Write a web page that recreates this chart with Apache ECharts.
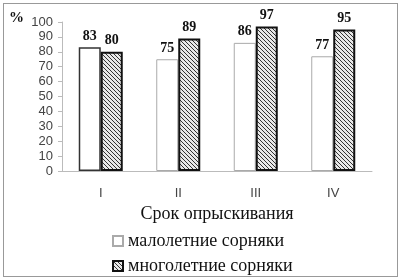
<!DOCTYPE html>
<html><head><meta charset="utf-8">
<script src="https://cdn.jsdelivr.net/npm/echarts@6/dist/echarts.min.js"></script>
<style>
html,body{margin:0;padding:0;background:#fff;}
#frame{position:absolute;left:3px;top:3px;width:393px;height:272px;border:1px solid #999;}
#c{position:absolute;left:0;top:0;width:401px;height:280px;}
</style></head>
<body><div id="frame"></div><div id="c"></div>
<script>
var categories = ['I', 'II', 'III', 'IV'];
var annualWeeds = [83, 75, 86, 77];
var perennialWeeds = [80, 89, 97, 95];
var yTicks = [0, 10, 20, 30, 40, 50, 60, 70, 80, 90, 100];
var seriesNames = ['малолетние сорняки', 'многолетние сорняки'];
var xName = 'Срок опрыскивания';

var cv = document.createElement('canvas');
cv.width = 4; cv.height = 4;
var g = cv.getContext('2d');
g.fillStyle = '#e8e8e8'; g.fillRect(0, 0, 4, 4);
g.strokeStyle = '#333'; g.lineWidth = 1;
g.beginPath();
g.moveTo(-1, -1); g.lineTo(5, 5);
g.moveTo(-1, 3); g.lineTo(1, 5);
g.moveTo(3, -1); g.lineTo(5, 1);
g.stroke();

var chart = echarts.init(document.getElementById('c'), null, {renderer: 'canvas'});
var serif = '"Liberation Serif", "Times New Roman", serif';
var sans = '"Liberation Sans", Arial, sans-serif';
chart.setOption({
  animation: false,
  grid: {left: 62, right: 29, top: 22, bottom: 109},
  graphic: [{type: 'text', left: 9, top: 11, style: {text: '%', font: 'bold 15px ' + serif, fill: '#111'}}],
  legend: {
    orient: 'vertical', left: 112, top: 232, itemGap: 7, padding: 0, height: 48,
    itemWidth: 10, itemHeight: 10, icon: 'rect',
    textStyle: {fontFamily: serif, fontSize: 18, color: '#111'},
    data: seriesNames
  },
  xAxis: {
    type: 'category', data: categories,
    name: xName, nameLocation: 'middle', nameGap: 33,
    nameTextStyle: {fontFamily: serif, fontSize: 18, color: '#111'},
    axisLine: {lineStyle: {color: '#bbb'}},
    axisTick: {show: false},
    axisLabel: {fontFamily: sans, fontSize: 13, color: '#444', margin: 16}
  },
  yAxis: {
    type: 'value', min: yTicks[0], max: yTicks[yTicks.length - 1], interval: 10,
    axisLine: {show: true, lineStyle: {color: '#bbb'}},
    axisTick: {show: true, length: 4, lineStyle: {color: '#bbb'}},
    splitLine: {show: false},
    axisLabel: {fontFamily: sans, fontSize: 13, color: '#444', margin: 9}
  },
  series: [
    {
      name: seriesNames[0], type: 'bar', barWidth: 22, barGap: '0%',
      data: annualWeeds.map(function (v, i) {
        return i === 0 ? {value: v, itemStyle: {borderColor: '#333', borderWidth: 1.5}} : v;
      }),
      itemStyle: {color: '#fff', borderColor: '#aaa', borderWidth: 1},
      label: {show: true, position: 'top', distance: 4, fontFamily: serif, fontWeight: 'bold', fontSize: 14, color: '#111'}
    },
    {
      name: seriesNames[1], type: 'bar', barWidth: 22,
      data: perennialWeeds,
      itemStyle: {color: {image: cv, repeat: 'repeat'}, borderColor: '#111', borderWidth: 2},
      label: {show: true, position: 'top', distance: 4, fontFamily: serif, fontWeight: 'bold', fontSize: 14, color: '#111'}
    }
  ]
});
</script></body></html>
